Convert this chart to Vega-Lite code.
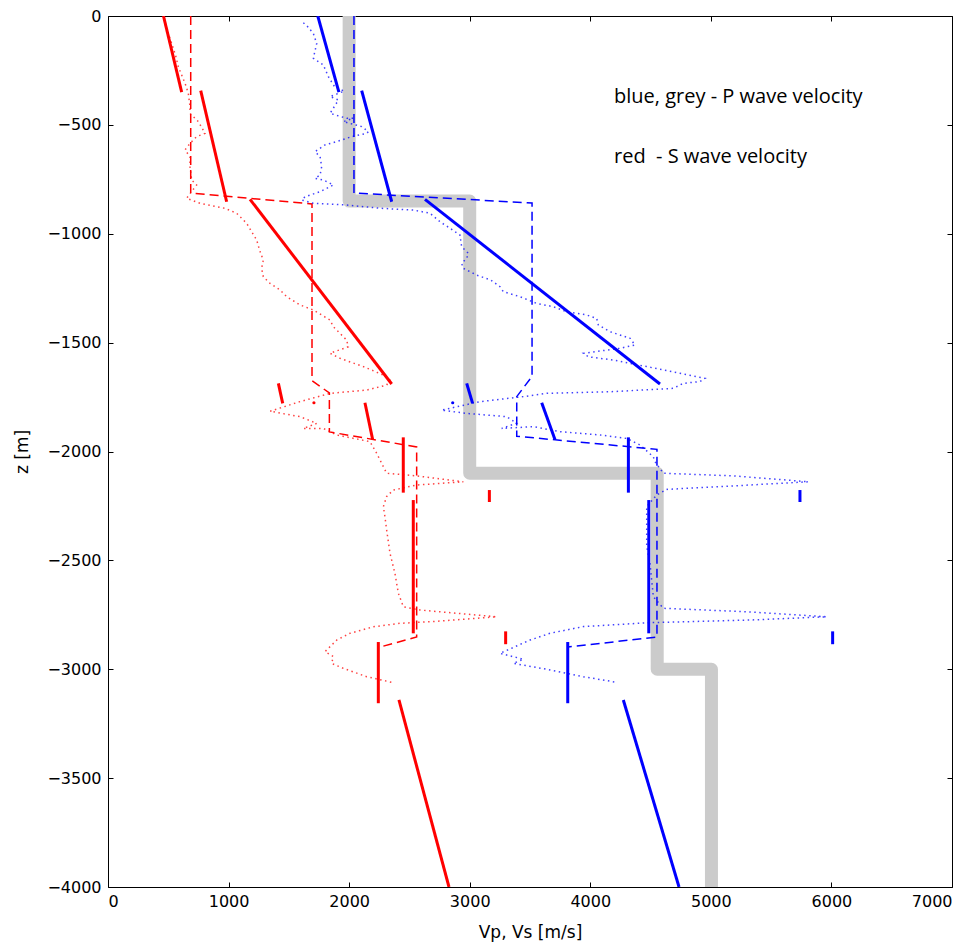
{
  "$schema": "https://vega.github.io/schema/vega-lite/v6.json",
  "width": 844,
  "height": 871,
  "autosize": {"type": "none"},
  "padding": {"left": 108, "top": 16, "right": 26, "bottom": 57},
  "background": "white",
  "config": {
    "view": {"stroke": "black", "strokeWidth": 1},
    "axis": {"grid": false, "domain": false, "tickColor": "black", "tickSize": -5, "tickWidth": 1, "format": "d",
      "labelFont": "DejaVu Sans", "labelFontSize": 16, "labelColor": "black",
      "titleFont": "DejaVu Sans", "titleFontSize": 17, "titleFontWeight": "normal", "titleColor": "black"}
  },
  "datasets": {
    "grey": [
      {"i": 1, "v": 2000, "z": 0}, {"i": 2, "v": 2000, "z": -850}, {"i": 3, "v": 3000, "z": -850},
      {"i": 4, "v": 3000, "z": -2100}, {"i": 5, "v": 4555, "z": -2100}, {"i": 6, "v": 4555, "z": -3000},
      {"i": 7, "v": 5005, "z": -3000}, {"i": 8, "v": 5005, "z": -4000}
    ],
    "bdash": [
      {"i": 1, "v": 2040, "z": 0}, {"i": 2, "v": 2040, "z": -813}, {"i": 3, "v": 3517, "z": -859},
      {"i": 4, "v": 3517, "z": -1655}, {"i": 5, "v": 3390, "z": -1748}, {"i": 6, "v": 3390, "z": -1930},
      {"i": 7, "v": 4553, "z": -1990}, {"i": 8, "v": 4553, "z": -2852}, {"i": 9, "v": 3815, "z": -2898}
    ],
    "rdash": [
      {"i": 1, "v": 686, "z": 0}, {"i": 2, "v": 686, "z": -813}, {"i": 3, "v": 1692, "z": -863},
      {"i": 4, "v": 1692, "z": -1675}, {"i": 5, "v": 1836, "z": -1731}, {"i": 6, "v": 1836, "z": -1910},
      {"i": 7, "v": 2560, "z": -1979}, {"i": 8, "v": 2560, "z": -2852}, {"i": 9, "v": 2256, "z": -2898}
    ],
    "bdot": [
      {"i": 1, "v": 1620, "z": -31}, {"i": 2, "v": 1650, "z": -45}, {"i": 3, "v": 1703, "z": -80},
      {"i": 4, "v": 1731, "z": -126}, {"i": 5, "v": 1703, "z": -194}, {"i": 6, "v": 1786, "z": -225},
      {"i": 7, "v": 1828, "z": -279}, {"i": 8, "v": 1883, "z": -328}, {"i": 9, "v": 1960, "z": -345},
      {"i": 10, "v": 1842, "z": -370}, {"i": 11, "v": 1911, "z": -386}, {"i": 12, "v": 1842, "z": -447},
      {"i": 13, "v": 1980, "z": -470}, {"i": 14, "v": 2035, "z": -470}, {"i": 15, "v": 1952, "z": -485},
      {"i": 16, "v": 2104, "z": -508}, {"i": 17, "v": 2160, "z": -531}, {"i": 18, "v": 2146, "z": -539},
      {"i": 19, "v": 2021, "z": -554}, {"i": 20, "v": 1897, "z": -577}, {"i": 21, "v": 1800, "z": -592},
      {"i": 22, "v": 1717, "z": -623}, {"i": 23, "v": 1759, "z": -646}, {"i": 24, "v": 1772, "z": -692},
      {"i": 25, "v": 1759, "z": -730}, {"i": 26, "v": 1717, "z": -746}, {"i": 27, "v": 1786, "z": -753},
      {"i": 28, "v": 1869, "z": -776}, {"i": 29, "v": 1759, "z": -807}, {"i": 30, "v": 1634, "z": -830},
      {"i": 31, "v": 1607, "z": -845}, {"i": 32, "v": 1703, "z": -860}, {"i": 33, "v": 1980, "z": -868},
      {"i": 34, "v": 2256, "z": -883}, {"i": 35, "v": 2533, "z": -891}, {"i": 36, "v": 2671, "z": -906},
      {"i": 37, "v": 2754, "z": -945}, {"i": 38, "v": 2837, "z": -975}, {"i": 39, "v": 2919, "z": -1006},
      {"i": 40, "v": 2933, "z": -1059}, {"i": 41, "v": 2989, "z": -1090}, {"i": 42, "v": 2975, "z": -1113},
      {"i": 43, "v": 2933, "z": -1136}, {"i": 44, "v": 2947, "z": -1159}, {"i": 45, "v": 3058, "z": -1190},
      {"i": 46, "v": 3173, "z": -1212}, {"i": 47, "v": 3251, "z": -1243}, {"i": 48, "v": 3279, "z": -1266},
      {"i": 49, "v": 3417, "z": -1289}, {"i": 50, "v": 3556, "z": -1320}, {"i": 51, "v": 3694, "z": -1335},
      {"i": 52, "v": 3804, "z": -1358}, {"i": 53, "v": 3970, "z": -1373}, {"i": 54, "v": 4053, "z": -1389},
      {"i": 55, "v": 4067, "z": -1419}, {"i": 56, "v": 4164, "z": -1450}, {"i": 57, "v": 4330, "z": -1480},
      {"i": 58, "v": 4371, "z": -1511}, {"i": 59, "v": 4247, "z": -1526}, {"i": 60, "v": 3944, "z": -1549},
      {"i": 61, "v": 3984, "z": -1565}, {"i": 62, "v": 4191, "z": -1580}, {"i": 63, "v": 4467, "z": -1610},
      {"i": 64, "v": 4744, "z": -1641}, {"i": 65, "v": 4951, "z": -1664}, {"i": 66, "v": 4910, "z": -1679},
      {"i": 67, "v": 4772, "z": -1687}, {"i": 68, "v": 4689, "z": -1710}, {"i": 69, "v": 4191, "z": -1725},
      {"i": 70, "v": 3638, "z": -1733}, {"i": 71, "v": 3445, "z": -1748}, {"i": 72, "v": 3085, "z": -1771},
      {"i": 73, "v": 2767, "z": -1810}, {"i": 74, "v": 2975, "z": -1825}, {"i": 75, "v": 3306, "z": -1840},
      {"i": 76, "v": 3389, "z": -1870}, {"i": 77, "v": 3265, "z": -1894}, {"i": 78, "v": 3528, "z": -1886},
      {"i": 79, "v": 3749, "z": -1909}, {"i": 80, "v": 4081, "z": -1924}, {"i": 81, "v": 4302, "z": -1940},
      {"i": 82, "v": 4412, "z": -1970}, {"i": 83, "v": 4523, "z": -2024}, {"i": 84, "v": 4537, "z": -2047},
      {"i": 85, "v": 4606, "z": -2100}, {"i": 86, "v": 5187, "z": -2112}, {"i": 87, "v": 5809, "z": -2139},
      {"i": 88, "v": 5187, "z": -2158}, {"i": 89, "v": 4634, "z": -2174}, {"i": 90, "v": 4550, "z": -2200},
      {"i": 91, "v": 4468, "z": -2253}, {"i": 92, "v": 4468, "z": -2437}, {"i": 93, "v": 4495, "z": -2514},
      {"i": 94, "v": 4509, "z": -2590}, {"i": 95, "v": 4523, "z": -2667}, {"i": 96, "v": 4606, "z": -2720},
      {"i": 97, "v": 5297, "z": -2736}, {"i": 98, "v": 5960, "z": -2759}, {"i": 99, "v": 5325, "z": -2774},
      {"i": 100, "v": 4495, "z": -2786}, {"i": 101, "v": 3942, "z": -2804}, {"i": 102, "v": 3666, "z": -2835},
      {"i": 103, "v": 3500, "z": -2866}, {"i": 104, "v": 3251, "z": -2927}, {"i": 105, "v": 3445, "z": -2954},
      {"i": 106, "v": 3362, "z": -2973}, {"i": 107, "v": 3666, "z": -3003}, {"i": 108, "v": 3942, "z": -3034},
      {"i": 109, "v": 4219, "z": -3060}
    ],
    "rdot": [
      {"i": 1, "v": 470, "z": -30}, {"i": 2, "v": 528, "z": -126}, {"i": 3, "v": 560, "z": -180},
      {"i": 4, "v": 583, "z": -233}, {"i": 5, "v": 639, "z": -309}, {"i": 6, "v": 666, "z": -355},
      {"i": 7, "v": 680, "z": -416}, {"i": 8, "v": 680, "z": -447}, {"i": 9, "v": 749, "z": -485},
      {"i": 10, "v": 805, "z": -539}, {"i": 11, "v": 735, "z": -554}, {"i": 12, "v": 680, "z": -585},
      {"i": 13, "v": 639, "z": -615}, {"i": 14, "v": 680, "z": -646}, {"i": 15, "v": 680, "z": -692},
      {"i": 16, "v": 694, "z": -753}, {"i": 17, "v": 735, "z": -776}, {"i": 18, "v": 652, "z": -837},
      {"i": 19, "v": 763, "z": -860}, {"i": 20, "v": 970, "z": -883}, {"i": 21, "v": 1067, "z": -906},
      {"i": 22, "v": 1150, "z": -952}, {"i": 23, "v": 1233, "z": -1029}, {"i": 24, "v": 1261, "z": -1082},
      {"i": 25, "v": 1288, "z": -1121}, {"i": 26, "v": 1274, "z": -1159}, {"i": 27, "v": 1288, "z": -1197},
      {"i": 28, "v": 1344, "z": -1228}, {"i": 29, "v": 1427, "z": -1258}, {"i": 30, "v": 1482, "z": -1289},
      {"i": 31, "v": 1592, "z": -1327}, {"i": 32, "v": 1703, "z": -1350}, {"i": 33, "v": 1841, "z": -1396},
      {"i": 34, "v": 1869, "z": -1427}, {"i": 35, "v": 1979, "z": -1488}, {"i": 36, "v": 1993, "z": -1519},
      {"i": 37, "v": 1841, "z": -1549}, {"i": 38, "v": 1924, "z": -1572}, {"i": 39, "v": 2118, "z": -1610},
      {"i": 40, "v": 2284, "z": -1649}, {"i": 41, "v": 2339, "z": -1672}, {"i": 42, "v": 2311, "z": -1695},
      {"i": 43, "v": 2145, "z": -1718}, {"i": 44, "v": 1841, "z": -1733}, {"i": 45, "v": 1592, "z": -1771},
      {"i": 46, "v": 1344, "z": -1815}, {"i": 47, "v": 1592, "z": -1840}, {"i": 48, "v": 1731, "z": -1871},
      {"i": 49, "v": 1620, "z": -1894}, {"i": 50, "v": 1786, "z": -1894}, {"i": 51, "v": 1897, "z": -1924},
      {"i": 52, "v": 2173, "z": -1955}, {"i": 53, "v": 2228, "z": -2008}, {"i": 54, "v": 2311, "z": -2100},
      {"i": 55, "v": 2560, "z": -2112}, {"i": 56, "v": 2947, "z": -2139}, {"i": 57, "v": 2560, "z": -2154},
      {"i": 58, "v": 2366, "z": -2177}, {"i": 59, "v": 2311, "z": -2207}, {"i": 60, "v": 2284, "z": -2253},
      {"i": 61, "v": 2297, "z": -2300}, {"i": 62, "v": 2311, "z": -2360}, {"i": 63, "v": 2339, "z": -2468},
      {"i": 64, "v": 2380, "z": -2560}, {"i": 65, "v": 2408, "z": -2651}, {"i": 66, "v": 2450, "z": -2713},
      {"i": 67, "v": 2588, "z": -2728}, {"i": 68, "v": 3223, "z": -2759}, {"i": 69, "v": 2698, "z": -2781},
      {"i": 70, "v": 2422, "z": -2789}, {"i": 71, "v": 2201, "z": -2805}, {"i": 72, "v": 2007, "z": -2835},
      {"i": 73, "v": 1897, "z": -2866}, {"i": 74, "v": 1800, "z": -2919}, {"i": 75, "v": 1869, "z": -2942},
      {"i": 76, "v": 1855, "z": -2973}, {"i": 77, "v": 1952, "z": -2996}, {"i": 78, "v": 2145, "z": -3034},
      {"i": 79, "v": 2353, "z": -3060}
    ],
    "segs": [
      {"c": "b", "v": 1740, "z": 0, "v2": 1915, "z2": -350},
      {"c": "b", "v": 2104, "z": -343, "v2": 2353, "z2": -853},
      {"c": "b", "v": 2629, "z": -842, "v2": 4578, "z2": -1690},
      {"c": "b", "v": 2975, "z": -1687, "v2": 3024, "z2": -1779},
      {"c": "b", "v": 3597, "z": -1776, "v2": 3707, "z2": -1945},
      {"c": "b", "v": 4316, "z": -1935, "v2": 4316, "z2": -2189},
      {"c": "b", "v": 5739, "z": -2177, "v2": 5739, "z2": -2232},
      {"c": "b", "v": 4485, "z": -2223, "v2": 4485, "z2": -2835},
      {"c": "b", "v": 6010, "z": -2826, "v2": 6010, "z2": -2885},
      {"c": "b", "v": 3813, "z": -2875, "v2": 3813, "z2": -3156},
      {"c": "b", "v": 4274, "z": -3141, "v2": 4736, "z2": -4000},
      {"c": "r", "v": 460, "z": 0, "v2": 611, "z2": -350},
      {"c": "r", "v": 769, "z": -343, "v2": 984, "z2": -853},
      {"c": "r", "v": 1178, "z": -842, "v2": 2353, "z2": -1690},
      {"c": "r", "v": 1413, "z": -1687, "v2": 1449, "z2": -1779},
      {"c": "r", "v": 2131, "z": -1776, "v2": 2195, "z2": -1945},
      {"c": "r", "v": 2449, "z": -1935, "v2": 2449, "z2": -2189},
      {"c": "r", "v": 3163, "z": -2177, "v2": 3163, "z2": -2232},
      {"c": "r", "v": 2532, "z": -2223, "v2": 2532, "z2": -2835},
      {"c": "r", "v": 3298, "z": -2826, "v2": 3298, "z2": -2885},
      {"c": "r", "v": 2242, "z": -2875, "v2": 2242, "z2": -3156},
      {"c": "r", "v": 2413, "z": -3141, "v2": 2828, "z2": -4000}
    ],
    "dots": [
      {"c": "b", "v": 2859, "z": -1776},
      {"c": "r", "v": 1708, "z": -1776}
    ],
    "notes": [
      {"t": "blue, grey - P wave velocity", "v": 4197, "z": -372},
      {"t": "red\u00a0 - S wave velocity", "v": 4197, "z": -648}
    ]
  },
  "layer": [
    {
      "data": {"name": "grey"},
      "mark": {"type": "line", "stroke": "#cbcbcb", "strokeWidth": 13, "strokeJoin": "round", "strokeCap": "butt", "clip": true},
      "encoding": {
        "x": {"field": "v", "type": "quantitative", "scale": {"domain": [0, 7000], "nice": false, "zero": false},
          "axis": {"orient": "bottom", "values": [0, 1000, 2000, 3000, 4000, 5000, 6000, 7000], "title": "Vp, Vs [m/s]",
            "labelPadding": 11, "titleY": 50, "titleBaseline": "alphabetic"}},
        "y": {"field": "z", "type": "quantitative", "scale": {"domain": [-4000, 0], "nice": false, "zero": false},
          "axis": {"orient": "left", "values": [0, -500, -1000, -1500, -2000, -2500, -3000, -3500, -4000], "title": "z [m]",
            "labelPadding": 12, "titleX": -86, "titleBaseline": "middle"}},
        "order": {"field": "i", "type": "quantitative"}
      }
    },
    {
      "data": {"name": "bdash"},
      "mark": {"type": "line", "stroke": "#0000ff", "strokeWidth": 1.5, "strokeDash": [9, 5], "clip": true},
      "encoding": {
        "x": {"field": "v", "type": "quantitative", "axis": null},
        "y": {"field": "z", "type": "quantitative", "axis": null},
        "order": {"field": "i", "type": "quantitative"}
      }
    },
    {
      "data": {"name": "rdash"},
      "mark": {"type": "line", "stroke": "#ff0000", "strokeWidth": 1.5, "strokeDash": [9, 5], "clip": true},
      "encoding": {
        "x": {"field": "v", "type": "quantitative", "axis": null},
        "y": {"field": "z", "type": "quantitative", "axis": null},
        "order": {"field": "i", "type": "quantitative"}
      }
    },
    {
      "data": {"name": "bdot"},
      "mark": {"type": "line", "stroke": "#0000ff", "strokeWidth": 1.5, "strokeDash": [1.5, 3.5], "opacity": 0.75, "clip": true},
      "encoding": {
        "x": {"field": "v", "type": "quantitative", "axis": null},
        "y": {"field": "z", "type": "quantitative", "axis": null},
        "order": {"field": "i", "type": "quantitative"}
      }
    },
    {
      "data": {"name": "rdot"},
      "mark": {"type": "line", "stroke": "#ff0000", "strokeWidth": 1.5, "strokeDash": [1.5, 3.5], "opacity": 0.75, "clip": true},
      "encoding": {
        "x": {"field": "v", "type": "quantitative", "axis": null},
        "y": {"field": "z", "type": "quantitative", "axis": null},
        "order": {"field": "i", "type": "quantitative"}
      }
    },
    {
      "data": {"name": "segs"},
      "mark": {"type": "rule", "strokeWidth": 3, "clip": true},
      "encoding": {
        "x": {"field": "v", "type": "quantitative", "axis": null},
        "y": {"field": "z", "type": "quantitative", "axis": null},
        "x2": {"field": "v2"},
        "y2": {"field": "z2"},
        "color": {"field": "c", "type": "nominal", "scale": {"domain": ["b", "r"], "range": ["#0000ff", "#ff0000"]}, "legend": null}
      }
    },
    {
      "data": {"name": "dots"},
      "mark": {"type": "point", "filled": true, "size": 10, "opacity": 1},
      "encoding": {
        "x": {"field": "v", "type": "quantitative", "axis": null},
        "y": {"field": "z", "type": "quantitative", "axis": null},
        "color": {"field": "c", "type": "nominal", "scale": {"domain": ["b", "r"], "range": ["#0000ff", "#ff0000"]}, "legend": null}
      }
    },
    {
      "data": {"name": "notes"},
      "mark": {"type": "text", "align": "left", "baseline": "middle", "font": "Open Sans", "fontSize": 20, "color": "black"},
      "encoding": {
        "x": {"field": "v", "type": "quantitative",
          "axis": {"orient": "top", "values": [0, 1000, 2000, 3000, 4000, 5000, 6000, 7000], "labels": false, "title": null}},
        "y": {"field": "z", "type": "quantitative",
          "axis": {"orient": "right", "values": [0, -500, -1000, -1500, -2000, -2500, -3000, -3500, -4000], "labels": false, "title": null}},
        "text": {"field": "t"}
      }
    }
  ],
  "resolve": {"axis": {"x": "independent", "y": "independent"}}
}
